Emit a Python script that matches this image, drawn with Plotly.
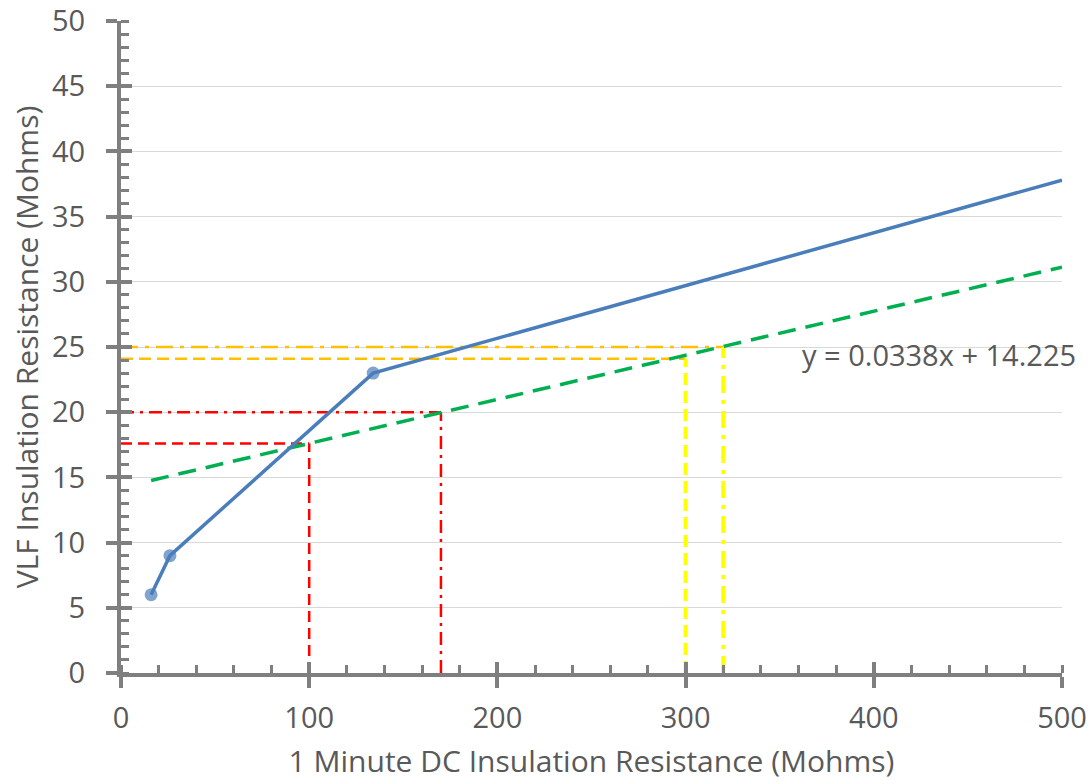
import plotly.graph_objects as go

# Measured data (blue series)
dc_ir = [16, 26, 134, 500]
vlf_ir = [6, 9, 23, 37.8]
marker_sizes = [13, 13, 13, 0]

# Trendline
slope = 0.0338
intercept = 14.225
trend_x = [16, 500]
trend_y = [slope * v + intercept for v in trend_x]

# Guide lines: (x value, y value)
red_dash = (100, 17.6)
red_dashdot = (170, 20.0)
yel_dash = (300, 24.1)
yel_dashdot = (320, 25.0)

equation_text = "y = 0.0338x + 14.225"
x_title = "1 Minute DC Insulation Resistance (Mohms)"
y_title = "VLF Insulation Resistance (Mohms)"

GRAY = "#595959"
AX = "#7f7f7f"
FONT = "Open Sans"
FS = 29
TFS = 30

fig = go.Figure()

def guide(xv, yv, hcolor, vcolor, dash, hwidth, vwidth):
    fig.add_trace(go.Scatter(x=[0, xv], y=[yv, yv], mode="lines",
                             line=dict(color=hcolor, width=hwidth, dash=dash),
                             hoverinfo="skip", showlegend=False))
    fig.add_trace(go.Scatter(x=[xv, xv], y=[0, yv], mode="lines",
                             line=dict(color=vcolor, width=vwidth, dash=dash),
                             hoverinfo="skip", showlegend=False))

guide(red_dash[0], red_dash[1], "#ff0000", "#ff0000", "11px,6px", 2.5, 2.5)
guide(red_dashdot[0], red_dashdot[1], "#ff0000", "#ff0000", "13px,6px,3px,6px", 2.5, 2.5)
guide(yel_dash[0], yel_dash[1], "#ffc000", "#ffff00", "12px,6px", 2.5, 4)
guide(yel_dashdot[0], yel_dashdot[1], "#ffc000", "#ffff00", "17px,7px,4px,7px", 2.5, 4)

fig.add_trace(go.Scatter(x=trend_x, y=trend_y, mode="lines",
                         line=dict(color="#00b050", width=3.5, dash="18px,10px"),
                         showlegend=False))

fig.add_trace(go.Scatter(x=dc_ir, y=vlf_ir, mode="lines+markers",
                         line=dict(color="#4a7ebb", width=3.5),
                         marker=dict(size=marker_sizes, color="#4a7ebb", line=dict(width=0)),
                         showlegend=False))

# dummy trace for overlay axes (inside halves of major ticks)
fig.add_trace(go.Scatter(x=[None], y=[None], xaxis="x2", yaxis="y2", showlegend=False))

fig.add_annotation(text=equation_text, xref="paper", yref="y", x=1.017, y=24.4,
                   xanchor="right", yanchor="middle", showarrow=False,
                   font=dict(family=FONT, size=FS, color=GRAY))

fig.update_layout(
    width=1091, height=781,
    margin=dict(l=121, r=29, t=21, b=108, autoexpand=False),
    paper_bgcolor="white", plot_bgcolor="white",
    font=dict(family=FONT, color=GRAY),
    xaxis=dict(range=[0, 500], dtick=100, showgrid=False, zeroline=False, automargin=False,
               showline=True, linecolor=AX, linewidth=4, ticklabeloverflow="allow",
               ticks="outside", ticklen=11, tickwidth=4, tickcolor=AX,
               minor=dict(ticks="inside", dtick=20, ticklen=8, tickwidth=3, tickcolor=AX, showgrid=False),
               tickfont=dict(size=FS, color=GRAY), ticklabelstandoff=5,
               title=dict(text=x_title, font=dict(size=TFS, color=GRAY), standoff=19)),
    yaxis=dict(range=[0, 50], dtick=5, showgrid=True, gridcolor="#d9d9d9", gridwidth=1,
               zeroline=False, showline=True, linecolor=AX, linewidth=4, automargin=False,
               ticklabeloverflow="allow",
               ticks="outside", ticklen=11, tickwidth=4, tickcolor=AX,
               minor=dict(ticks="inside", dtick=1, ticklen=8, tickwidth=3, tickcolor=AX, showgrid=False),
               tickfont=dict(size=FS, color=GRAY), ticklabelstandoff=15,
               title=dict(text=y_title, font=dict(size=TFS, color=GRAY), standoff=6)),
    xaxis2=dict(overlaying="x", matches="x", anchor="y2", side="bottom", showgrid=False,
                zeroline=False, showline=False, showticklabels=False, automargin=False,
                ticks="inside", ticklen=11, tickwidth=4, tickcolor=AX, dtick=100, range=[0, 500]),
    yaxis2=dict(overlaying="y", matches="y", anchor="x2", side="left", showgrid=False,
                zeroline=False, showline=False, showticklabels=False, automargin=False,
                ticks="inside", ticklen=11, tickwidth=4, tickcolor=AX, dtick=5, range=[0, 50]),
)

fig.write_html("out.html", config={"displayModeBar": False},
               post_script="document.body.style.margin='0';")
